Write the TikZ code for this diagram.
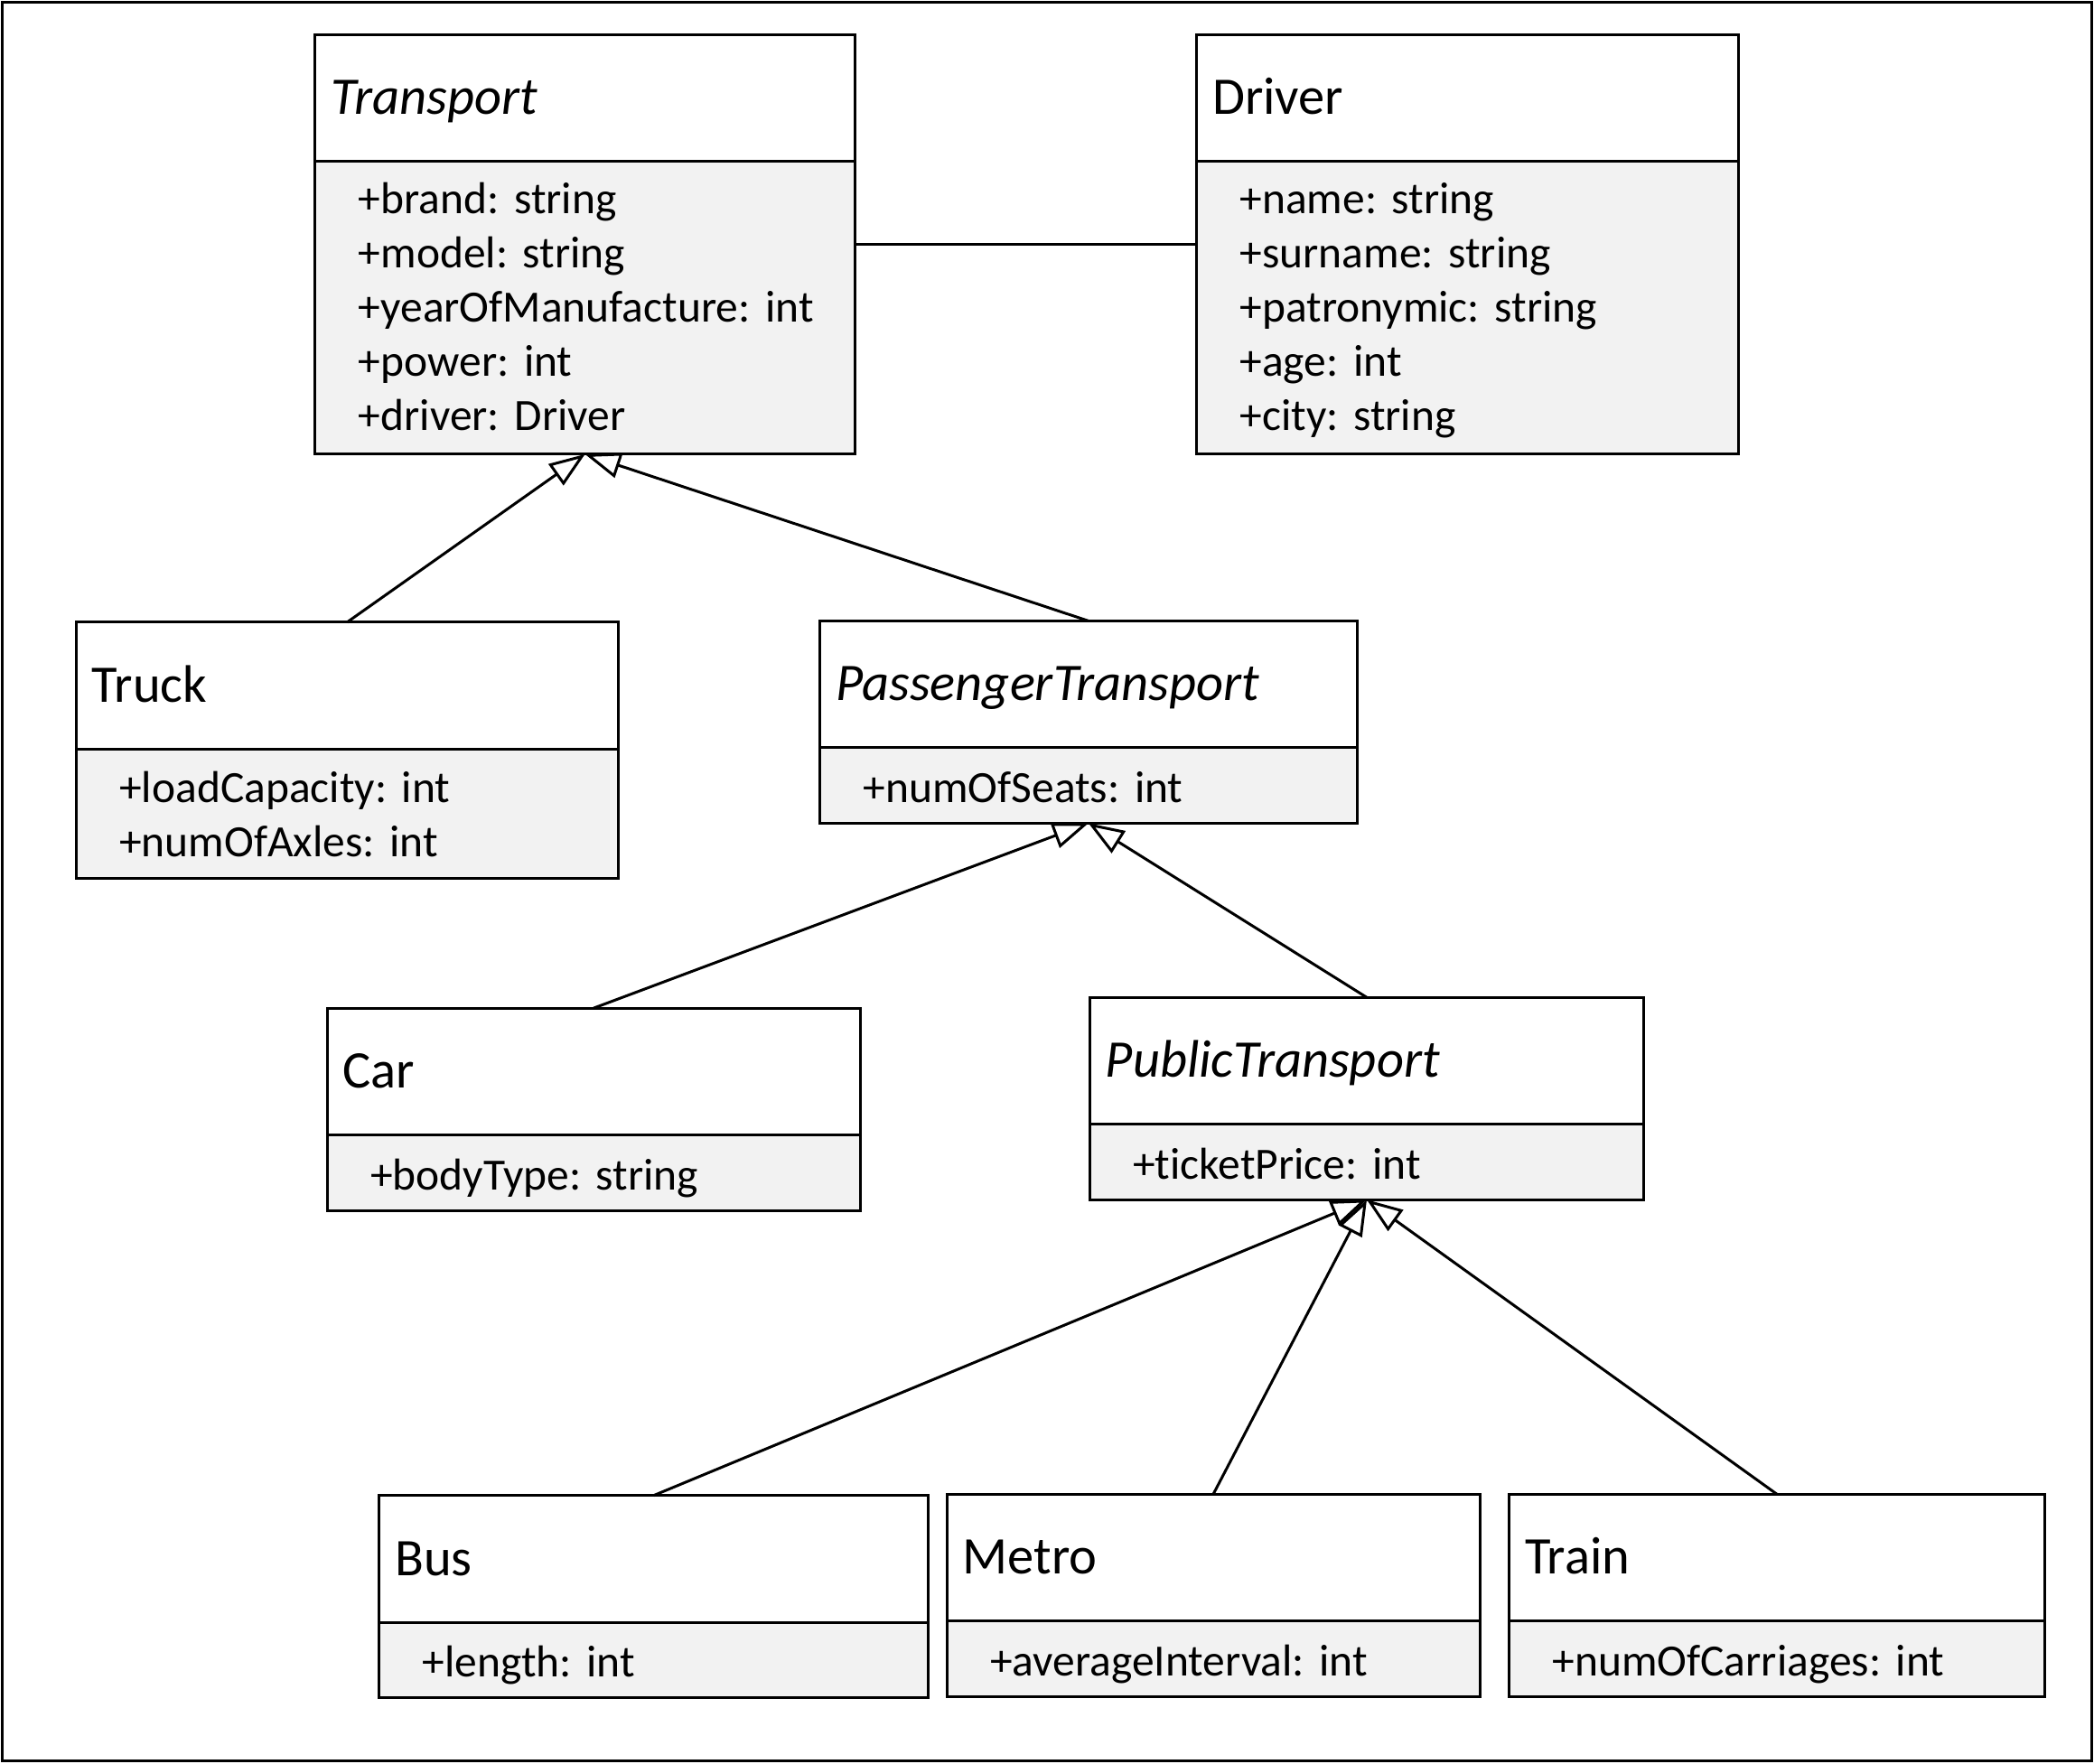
\documentclass[tikz,border=0pt]{standalone}
\usepackage{fontspec}
\setmainfont{Carlito}[Ligatures=NoCommon]
\usepackage{xcolor}
\usetikzlibrary{positioning,arrows.meta}
\definecolor{attrgray}{HTML}{F2F2F2}
\frenchspacing

\begin{document}
\begin{tikzpicture}[x=0.2957pt,y=-0.2957pt]
	\tikzset{
		classname/.style={draw, line width=0.6pt, outer sep=0pt, anchor=north west, fill=white, inner xsep=3.5pt, inner ysep=0pt, text height=17.7pt, text depth=10.4pt, align=left, font=\fontsize{11.7}{14}\selectfont},
		classattr/.style={draw, line width=0.6pt, outer sep=0pt, fill=attrgray, inner xsep=9.6pt, inner ysep=0pt, align=left, font=\fontsize{9.9}{12}\selectfont},
		oneline/.style={text height=12.1pt, text depth=4.6pt},
		inherit/.style={line width=0.6pt, -{Triangle[open, length=7.9pt, width=5.7pt]}},
		assoc/.style={line width=0.6pt}
	}
	\useasboundingbox (0,0) rectangle (1568,1321);
	\draw [line width=0.6pt] (1.7,1.7) rectangle (1566.3,1318.5);
	\node [classname, text width=112.5pt] (transport) at (236,26) {\textit{Transport}};
	\node [classattr, text width=100.3pt, text height=11.6pt, text depth=53.2pt, below=0pt of transport] (transportattr) {+brand: string\\+model: string\\+yearOfManufacture:~int\\+power: int\\+driver: Driver};
	\node [classname, text width=113pt] (driver) at (896,26) {Driver};
	\node [classattr, text width=100.8pt, text height=11.6pt, text depth=53.2pt, below=0pt of driver] (driverattr) {+name: string\\+surname: string\\+patronymic: string\\+age: int\\+city: string};
	\node [classname, text width=113pt] (truck) at (57,466) {Truck};
	\node [classattr, text width=100.8pt, text height=11.8pt, text depth=16.9pt, below=0pt of truck] (truckattr) {+loadCapacity: int\\+numOfAxles: int};
	\node [classname, text width=111.9pt] (passenger) at (614,465) {\textit{PassengerTransport}};
	\node [classattr, oneline, text width=99.7pt, below=0pt of passenger] (passengerattr) {+numOfSeats: int};
	\node [classname, text width=111pt] (car) at (245,755) {Car};
	\node [classattr, oneline, text width=98.8pt, below=0pt of car] (carattr) {+bodyType: string};
	\node [classname, text width=115.7pt] (public) at (816,747) {\textit{PublicTransport}};
	\node [classattr, oneline, text width=103.5pt, below=0pt of public] (publicattr) {+ticketPrice: int};
	\node [classname, text width=114.5pt] (bus) at (284,1120) {Bus};
	\node [classattr, oneline, text width=102.3pt, below=0pt of bus] (busattr) {+length: int};
	\node [classname, text width=111pt] (metro) at (709,1119) {Metro};
	\node [classattr, oneline, text width=98.8pt, below=0pt of metro] (metroattr) {+averageInterval: int};
	\node [classname, text width=111.6pt] (train) at (1130,1119) {Train};
	\node [classattr, oneline, text width=99.4pt, below=0pt of train] (trainattr) {+numOfCarriages: int};
	\draw [assoc] ([yshift=14.05pt]transportattr.east) -- ([yshift=14.05pt]driverattr.west);
	\draw [inherit] (truck.north) -- (transportattr.south);
	\draw [inherit] (passenger.north) -- (transportattr.south);
	\draw [inherit] (car.north) -- (passengerattr.south);
	\draw [inherit] (public.north) -- (passengerattr.south);
	\foreach \sub in {bus,metro,train}
		\draw [inherit] (\sub.north) -- (publicattr.south);
\end{tikzpicture}
\end{document}
